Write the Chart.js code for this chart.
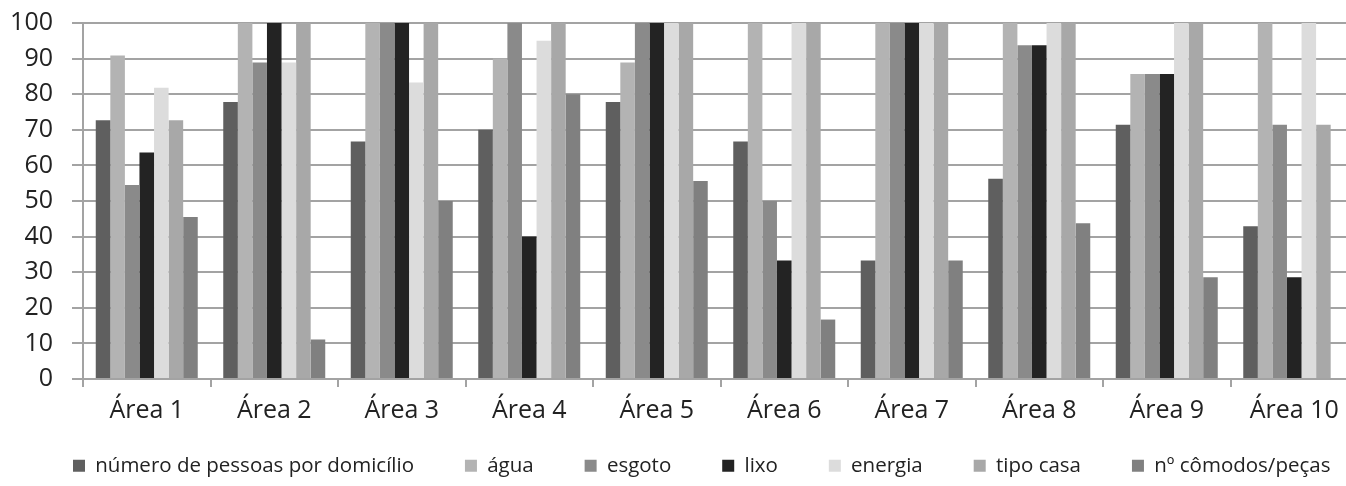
<!DOCTYPE html>
<html>
<head>
<meta charset="utf-8">
<script src="https://cdn.jsdelivr.net/npm/chart.js"></script>
<style>
  html, body { margin: 0; padding: 0; background: #fff; overflow: hidden; }
</style>
</head>
<body>
<canvas id="chart" width="1360" height="486"></canvas>
<script>
const areas = ["Área 1", "Área 2", "Área 3", "Área 4", "Área 5", "Área 6", "Área 7", "Área 8", "Área 9", "Área 10"];

const pessoas  = [72.7, 77.8, 66.7, 70, 77.8, 66.7, 33.3, 56.25, 71.4, 42.9];
const agua     = [90.9, 100, 100, 90, 88.9, 100, 100, 100, 85.7, 100];
const esgoto   = [54.5, 88.9, 100, 100, 100, 50, 100, 93.75, 85.7, 71.4];
const lixo     = [63.6, 100, 100, 40, 100, 33.3, 100, 93.75, 85.7, 28.6];
const energia  = [81.8, 88.9, 83.3, 95, 100, 100, 100, 100, 100, 100];
const tipoCasa = [72.7, 100, 100, 100, 100, 100, 100, 100, 100, 71.4];
const comodos  = [45.5, 11.1, 50, 80, 55.6, 16.7, 33.3, 43.75, 28.6, 0];

const seriesNames = ["número de pessoas por domicílio", "água", "esgoto", "lixo", "energia", "tipo casa", "nº cômodos/peças"];
const seriesData = [pessoas, agua, esgoto, lixo, energia, tipoCasa, comodos];
const colors = ["#5f5f5f", "#b3b3b3", "#8a8a8a", "#232323", "#dcdcdc", "#a8a8a8", "#808080"];

const FONT = "'Open Sans', 'DejaVu Sans', sans-serif";
const gridGray = "#a3a3a3";

const datasets = seriesNames.map((name, i) => ({
    label: name,
    data: seriesData[i],
    backgroundColor: colors[i],
    borderWidth: 0,
    categoryPercentage: 0.8,
    barPercentage: 1.0
}));

// the legend row starts further right than the y axis box allows
const legendNudge = {
    id: "legendNudge",
    afterLayout(chart) {
        chart.legend.left += 44;
        chart.legend.right += 44;
    }
};

new Chart(document.getElementById("chart"), {
    type: "bar",
    data: { labels: areas, datasets: datasets },
    plugins: [legendNudge],
    options: {
        responsive: false,
        animation: false,
        layout: { padding: { left: 10, top: 23, right: 2, bottom: 0 } },
        plugins: {
            tooltip: { enabled: false },
            legend: {
                position: "bottom",
                align: "start",
                labels: {
                    boxWidth: 12,
                    boxHeight: 12,
                    padding: 19,
                    color: "#222",
                    font: { family: FONT, size: 20.5 },
                    generateLabels: (chart) => {
                        const items = Chart.defaults.plugins.legend.labels.generateLabels(chart);
                        return items.map((item, i) => {
                            if (i < items.length - 1) item.text = item.text + "      ";
                            return item;
                        });
                    }
                }
            }
        },
        scales: {
            x: {
                grid: { drawOnChartArea: false, drawTicks: true, tickLength: 8, color: gridGray, lineWidth: 2, offset: true },
                border: { color: gridGray, width: 2 },
                ticks: { color: "#222", padding: 9, font: { family: FONT, size: 25 } },
                afterFit: (scale) => { scale.height = 57.5; }
            },
            y: {
                min: 0,
                max: 100,
                ticks: { stepSize: 10, autoSkip: false, color: "#222", padding: 19, font: { family: FONT, size: 25 } },
                grid: { color: gridGray, lineWidth: 2, tickLength: 11 },
                border: { color: gridGray, width: 2 },
                afterFit: (scale) => {
                    scale.width = 73;
                    scale.paddingTop = 0;
                    scale.paddingBottom = 0;
                }
            }
        }
    }
});
</script>
</body>
</html>
